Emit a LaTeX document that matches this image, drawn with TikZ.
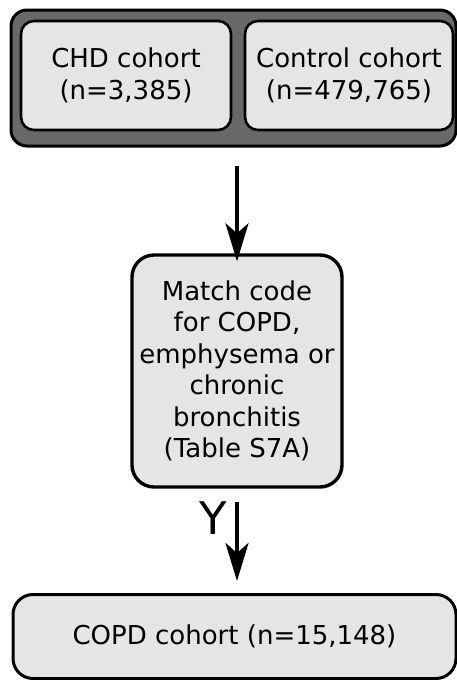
\documentclass[tikz,border=0pt]{standalone}
\usepackage{fontspec}
\setmainfont{DejaVu Sans}
\usetikzlibrary{arrows.meta}
\definecolor{boxfill}{HTML}{E5E5E5}
\definecolor{groupfill}{HTML}{686868}
\tikzset{
  txt/.style={font=\fontsize{26}{31.5}\selectfont, align=center, text=black},
  group/.style={draw=black, line width=3pt, fill=groupfill, rounded corners=16pt},
  cohort/.style={txt, draw=black, line width=2.6pt, fill=boxfill, rounded corners=13pt, inner sep=0pt},
  stepbox/.style={txt, draw=black, line width=3.4pt, fill=boxfill, rounded corners=22pt, inner sep=0pt},
  flow/.style={line width=4pt, -{Stealth[length=38pt, width=23pt, inset=10pt]}}
}
\begin{document}
\begin{tikzpicture}[x=1pt, y=-1pt]
  \useasboundingbox (0,0) rectangle (457,680);
  % source cohorts grouped in one frame
  \node[group, minimum width=445pt, minimum height=136pt] (frame) at (233.5,78) {};
  \node[cohort, minimum width=210pt, minimum height=109pt] (chd) at (126,75.5) {CHD cohort\\(n=3,385)};
  \node[cohort, minimum width=208pt, minimum height=109pt] (ctrl) at (349,75.5) {Control cohort\\(n=479,765)};
  % matching step
  \node[stepbox, minimum width=210pt, minimum height=232pt] (match) at (237,371)
    {Match code\\for COPD,\\emphysema or\\chronic\\bronchitis\\(Table S7A)};
  % resulting cohort
  \node[stepbox, line width=3pt, rounded corners=20pt, minimum width=443pt, minimum height=84pt] (copd) at (234.5,636.5)
    {COPD cohort (n=15,148)};
  % connectors
  \draw[flow] (frame.south -| match.north) ++(0,18) -- ([yshift=-8pt]match.north);
  \draw[flow, shorten <=13pt, shorten >=12pt] (match.south) -- (match.south |- copd.north);
  \node[font=\fontsize{45}{45}\selectfont, inner sep=0pt] (ylab) at (213,518.5) {Y};
\end{tikzpicture}
\end{document}
